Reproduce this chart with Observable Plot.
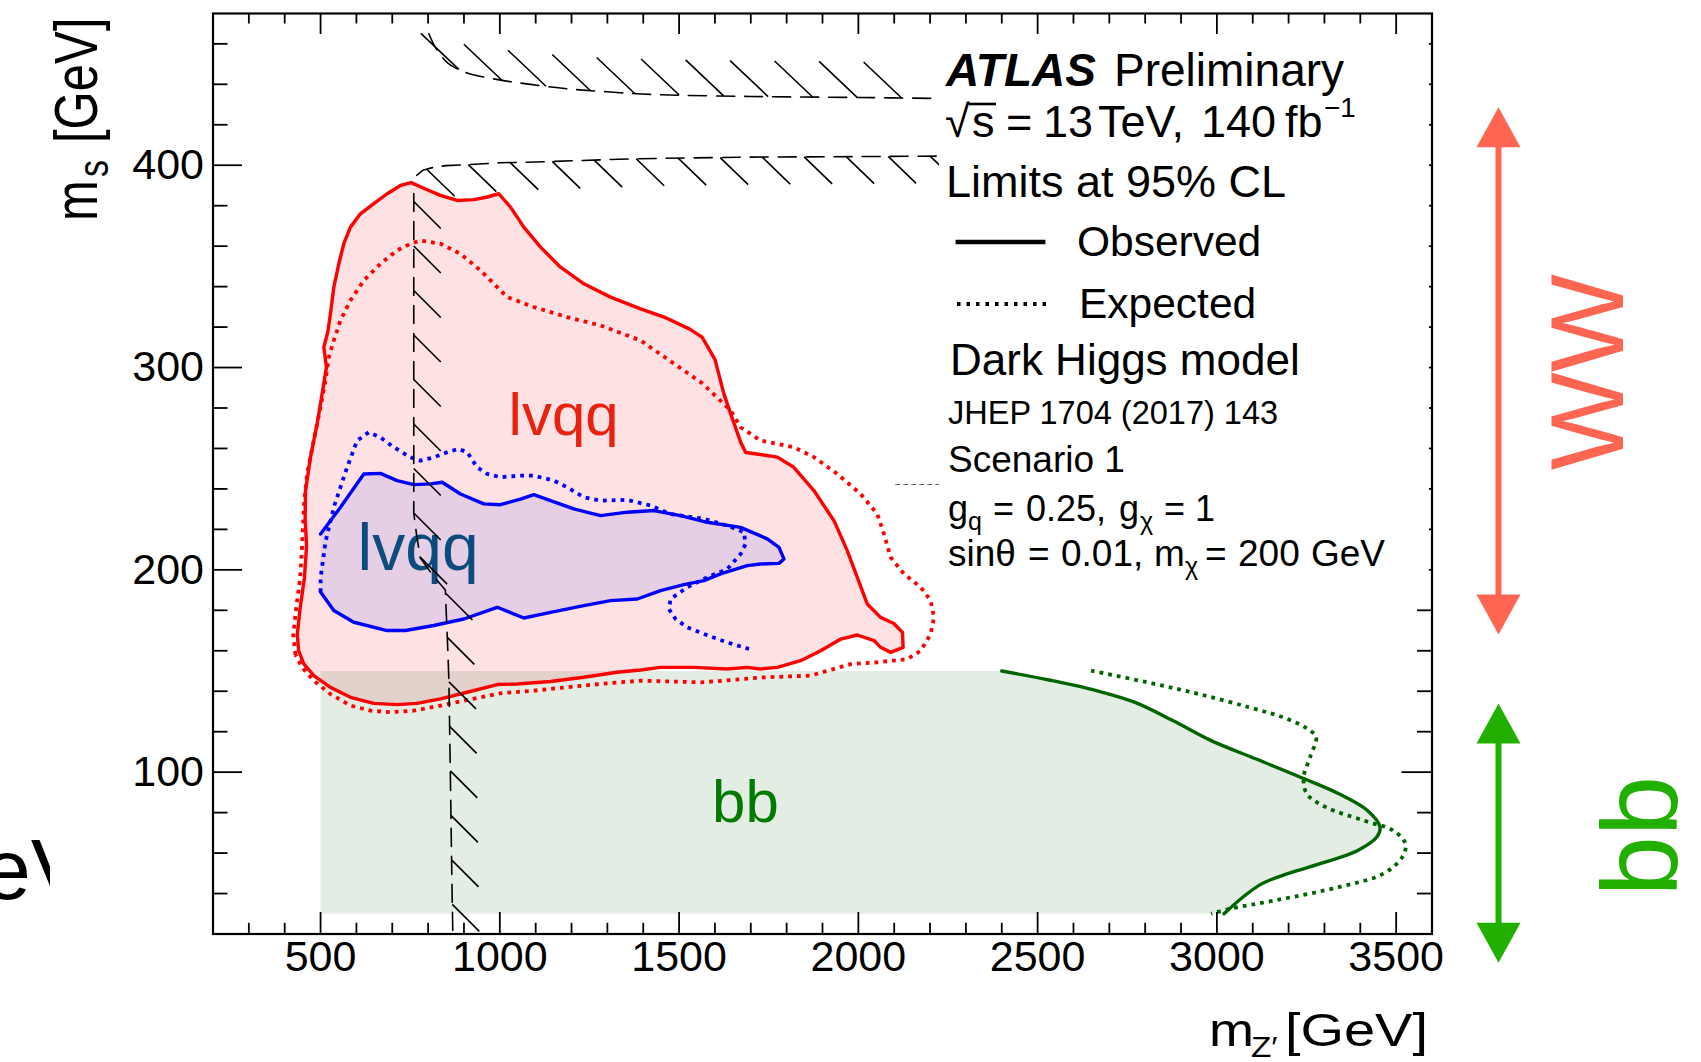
<!DOCTYPE html>
<html>
<head>
<meta charset="utf-8">
<script src="https://cdn.jsdelivr.net/npm/d3@7"></script>
<script src="https://cdn.jsdelivr.net/npm/@observablehq/plot@0.6"></script>
<style>
  html, body { margin: 0; padding: 0; background: #ffffff; }
  #chart svg { display: block; }
</style>
</head>
<body>
<div id="chart"></div>
<script>
const FONT = "'Liberation Sans', Arial, Helvetica, sans-serif";

// ---------- axes ----------
const xDomain = [200, 3600];
const yDomain = [20, 475];
const xMajorTicks = [500, 1000, 1500, 2000, 2500, 3000, 3500];
const yMajorTicks = [100, 200, 300, 400];
const xMinorTicks = d3.range(300, 3600, 100).filter(v => !xMajorTicks.includes(v));
const yMinorTicks = d3.range(40, 475, 20).filter(v => !yMajorTicks.includes(v));

// ---------- contours (m_Z', m_s) ----------
// WW (lvqq) observed - red solid, closed
const wwObserved = [
[439,160],[435,168],[443,181],[455,196],[461,212],[457,225],[458,239],[471.8,255.6],[490.4,272.1],[504.4,287],
[516.4,300.2],[509,310],[520,317.5],[527.6,326.6],[537,339.7],[550.9,351.3],[564.8,361.2],[583.4,369.4],[611,376],
[648.5,381],[685.7,385.9],[723,390],[752.7,391.4],[797.3,387.9],[834.5,385.1],[881,382.6],[927.5,383],[964.7,384.3],
[997.3,385.9],[1029.8,379.3],[1067,369.4],[1113.5,359.5],[1169.3,349.6],[1234.4,341.4],[1308.8,334.8],[1392.5,329],
[1464,324.5],[1530,319],[1564,315],[1600,304],[1625,287],[1650,274],[1672,263],[1686,258],[1727,257],[1774,255.7],
[1820,250.7],[1876,239.2],[1932,224.3],[1969,209.5],[1997,196.3],[2025,183.1],[2062,176.5],[2099,173.5],[2123,169.1],
[2125,161.7],[2090,159.2],[2062,161.7],[2044,165],[1997,167.8],[1951,165.8],[1895,160],[1839,155.1],[1774,151.8],
[1727,151],[1690,151.8],[1634,151],[1541,151.8],[1448,151.8],[1392.5,150.5],[1327,149.4],[1234,146.9],[1141,144.8],
[1048,143.6],[993,143.3],[909,139.5],[834.5,136.2],[769,134],[714,133.4],[648.5,134],[583.4,137],[527.6,141.9],
[481.1,147.7],[453.2,153.5]
];
// WW (lvqq) expected - red dotted, closed
const wwExpected = [
[430,158],[424,168],[432,181],[443,196],[448,210],[452,225],[455,235],[462.5,247.4],[481,263.9],[499.7,280.4],
[513.7,293.6],[523,305.1],[537,313.4],[555.5,323.3],[583.4,333.2],[620.6,343],[667,351.3],[713.6,357.9],[750.8,361.2],
[778.7,362.8],[834.5,361.2],[890.3,356.2],[946,348],[983.3,341.4],[1020.5,334.8],[1094.9,329.9],[1188,324.9],
[1281,320.8],[1392.5,313.4],[1464,304.6],[1564,292.3],[1643.7,278.8],[1671.6,270.5],[1727.4,263.9],[1820.4,260.6],
[1876.2,255.7],[1941.3,247.4],[2006.4,237.5],[2052.9,227.6],[2071.5,217.7],[2090,206.2],[2127.3,198],[2173.8,191.4],
[2201.7,184.8],[2211,176.5],[2201.7,168.3],[2173.8,160],[2136.6,155.9],[2053,154.3],[1978.5,153.4],[1913.4,150.1],
[1866.9,147.7],[1727,146.8],[1632,145.3],[1561,144.4],[1392.5,145.2],[1280.9,143.6],[1187.9,142],[1094.9,140.3],
[1001.9,139],[909,135.7],[834.5,132.9],[760,130.4],[695,129.6],[639.2,130.4],[583.4,132.9],[527.6,138.6],[481.1,145.2],
[448.5,151.8]
];
// second lvqq region observed - blue solid (starts/ends on m_Z' = 500 edge)
const lvqqObserved = [
[500,217.7],[555.5,230.9],[620.6,247.4],[667,247.7],[713.6,244.1],[760,242.1],[806.6,242.5],[839.2,243.3],[890.3,237.5],
[955.4,232.6],[1001.9,232.2],[1057.7,235],[1094.9,237.2],[1141.4,234.2],[1206.5,230.1],[1281,226.8],[1355.4,228.5],
[1429.8,229.3],[1504.2,226.8],[1578.6,223.5],[1671.6,221],[1746,215.3],[1778.6,211.1],[1792.5,205.4],[1778.6,203.2],
[1727.4,202.9],[1690.2,202.1],[1615.8,198],[1569.3,194.7],[1513.5,192.7],[1448.4,189.7],[1383.3,185.6],[1308.9,184.8],
[1234.4,182.3],[1141.4,179],[1067,176.2],[992.6,181.5],[899.6,175.7],[815.9,172.5],[736.9,170],[685.7,170],
[592.7,174.1],[536.9,179.9],[500,189]
];
// second lvqq region expected - blue dotted (open)
const lvqqExpected = [
[500,189],[500,196],[507,205],[514,214],[537,231],[574,250.7],[602,263.9],[634.5,268],[667,265.5],[704.3,260.6],
[750.8,255.6],[778.7,254],[816,255.6],[853,258.1],[885.6,259.8],[909,258.1],[936.8,250.7],[964.7,247.4],[1001.9,245.8],
[1057.7,246.6],[1094.9,246.6],[1150.7,244.1],[1188,240.8],[1234.4,235.9],[1281,234.2],[1355.4,234.6],[1420.5,231.8],
[1476.3,227.6],[1569.3,225.2],[1634.4,221.9],[1680.9,218.6],[1685.6,212.8],[1671.6,207.8],[1634.4,200.4],
[1578.6,196.3],[1522.8,191.4],[1476.3,185.6],[1471.7,180.6],[1490.2,175.7],[1522.8,171.6],[1569.3,168.3],
[1634.4,164.1],[1694.9,160.9]
];
// bb observed - green solid (open)
const bbObserved = [
[2400,150],[2539,145.3],[2664,140.3],[2770,134.6],[2877,125.5],[2984,115.6],[3108,106.6],[3233,97.5],[3340,89.3],
[3420,81],[3455,72.8],[3446,67.9],[3393,61.3],[3304,55.6],[3197,49.8],[3126,44.9],[3073,38.3],[3020,30]
];
// bb expected - green dotted (open)
const bbExpected = [
[2649,150.2],[2806,144.4],[2948,138.7],[3091,132],[3197,126.3],[3260,120.6],[3277,117.3],[3260,107.4],[3242,97.5],
[3251,89.3],[3304,82.7],[3411,76],[3491,71.2],[3526,64.6],[3517,58],[3464,49.8],[3340,43.2],[3162,36.6],[3037,32.5],
[2984,30]
];
// bb excluded area corners (grid edges at m_Z' = 500, m_s = 30 and 150)
const bbGridLow = [[3020,30],[500,30]];
const bbGridHigh = [[500,150]];

// black hatched boundaries
const boundUpper = [
[802,465],[815,460],[834,454.6],[855,450.5],[877,448],[909,445.6],[994.5,442.3],[1080,440.1],[1187,437.8],
[1300,436.3],[1420,435],[1700,434],[2000,433.5],[2230,433]
];
const boundLower = [
[768,395],[785,397.5],[816,399],[850,399.8],[909,400.3],[1000,401.2],[1100,401.6],[1374,403.2],[1700,404],[2230,404.5]
];
const boundVertical = [
[760,386],[760,228],[768,217],[778,206],[810,198],[848,190],[855,160],[858,145],[862,99],[866,50],[869,19]
];
const faintDashed = [[2104,242.2],[2230,242.2]];

// in-plot channel labels
const labelWW = [{text: "lvqq", x: 1178, y: 266.9}];
const labelLvqq = [{text: "lvqq", x: 772, y: 199.7}];
const labelBB = [{text: "bb", x: 1685, y: 75.2}];

// decay-channel ranges in m_s shown at the right
const rangeWW = [{label: "WW", lo: 168, hi: 428.6, mid: 297.7}];
const rangeBB = [{label: "bb", lo: 5.8, hi: 133.9, mid: 68.4}];

// ---------- layout ----------
const W = 1701, H = 1062;
const mL = 212.5, mR = 269.5, mT = 13, mB = 128.5;
const X = Plot.scale({x: {domain: xDomain, range: [mL, W - mR]}});
const Y = Plot.scale({y: {domain: yDomain, range: [H - mB, mT]}});

function hatchSegments(line, spacing, start, dxPx, dyPx) {
  const pts = line.map(([x, y]) => [X.apply(x), Y.apply(y)]);
  const out = [];
  let next = start, walked = 0;
  for (let i = 0; i < pts.length - 1; i++) {
    const [x0, y0] = pts[i], [x1, y1] = pts[i + 1];
    const len = Math.hypot(x1 - x0, y1 - y0);
    while (next <= walked + len) {
      const t = (next - walked) / len;
      const px = x0 + (x1 - x0) * t, py = y0 + (y1 - y0) * t;
      out.push({x1: X.invert(px), y1: Y.invert(py), x2: X.invert(px + dxPx), y2: Y.invert(py + dyPx)});
      next += spacing;
    }
    walked += len;
  }
  return out;
}
const close = a => [...a, a[0]];
const px = d => d[0], py = d => d[1];

const headUp = {draw(c) { c.moveTo(0, 0); c.lineTo(22, 40); c.lineTo(-22, 40); c.closePath(); }};
const headDown = {draw(c) { c.moveTo(0, 0); c.lineTo(22, -40); c.lineTo(-22, -40); c.closePath(); }};

const dotted = "3.8,5";
const hatchDash = "18,10";
const xR = xDomain[1];

const svg = Plot.plot({
  width: W, height: H,
  marginLeft: mL, marginRight: mR, marginTop: mT, marginBottom: mB,
  x: {domain: xDomain, axis: null},
  y: {domain: yDomain, axis: null},
  style: {background: "#ffffff", fontFamily: FONT, overflow: "visible"},
  marks: [
    // fills
    Plot.line(close(wwObserved), {x: px, y: py, fill: "#FDE1E3", stroke: "none", curve: "linear", clip: true}),
    Plot.line(close(lvqqObserved), {x: px, y: py, fill: "#E6CFE5", stroke: "none", curve: "linear", clip: true}),
    Plot.line([...bbGridHigh, ...bbObserved, ...bbGridLow], {x: px, y: py, fill: "#1E6E1E", fillOpacity: 0.12, stroke: "none", curve: "linear", clip: true}),
    // contour lines
    Plot.line(close(wwExpected), {x: px, y: py, stroke: "#FF0000", strokeWidth: 3.8, strokeDasharray: dotted, strokeLinecap: "butt", curve: "linear", clip: true}),
    Plot.line(close(wwObserved), {x: px, y: py, stroke: "#FF0000", strokeWidth: 3.4, curve: "linear", clip: true}),
    Plot.line(lvqqExpected, {x: px, y: py, stroke: "#0000FF", strokeWidth: 3.8, strokeDasharray: dotted, strokeLinecap: "butt", curve: "linear", clip: true}),
    Plot.line(lvqqObserved, {x: px, y: py, stroke: "#0000FF", strokeWidth: 3.4, curve: "linear", clip: true}),
    Plot.line(bbExpected, {x: px, y: py, stroke: "#006400", strokeWidth: 3.8, strokeDasharray: dotted, strokeLinecap: "butt", curve: "catmull-rom", clip: true}),
    Plot.line(bbObserved, {x: px, y: py, stroke: "#006400", strokeWidth: 3.4, curve: "catmull-rom", clip: true}),
    Plot.line(faintDashed, {x: px, y: py, stroke: "#666666", strokeWidth: 1, strokeDasharray: "4,4", curve: "linear", clip: true}),
    // channel labels
    Plot.text(labelWW, {x: "x", y: "y", text: "text", fill: "#E8220F", fontSize: 60, fontFamily: FONT, lineAnchor: "bottom"}),
    Plot.text(labelLvqq, {x: "x", y: "y", text: "text", fill: "#0B4C7E", fontSize: 66, fontFamily: FONT, lineAnchor: "bottom"}),
    Plot.text(labelBB, {x: "x", y: "y", text: "text", fill: "#007A00", fontSize: 60, fontFamily: FONT, lineAnchor: "bottom"}),
    // hatched boundaries
    Plot.line(boundUpper, {x: px, y: py, stroke: "black", strokeWidth: 1.6, strokeDasharray: hatchDash, curve: "catmull-rom", clip: true}),
    Plot.link(hatchSegments(boundUpper, 44.5, 48, -38, -36), {x1: "x1", y1: "y1", x2: "x2", y2: "y2", stroke: "black", strokeWidth: 1.6, clip: true}),
    Plot.line(boundLower, {x: px, y: py, stroke: "black", strokeWidth: 1.6, strokeDasharray: hatchDash, curve: "linear", clip: true}),
    Plot.link(hatchSegments(boundLower, 42, 12, 28, 27), {x1: "x1", y1: "y1", x2: "x2", y2: "y2", stroke: "black", strokeWidth: 1.6, clip: true}),
    Plot.line(boundVertical, {x: px, y: py, stroke: "black", strokeWidth: 1.6, strokeDasharray: hatchDash, curve: "linear", clip: true}),
    Plot.link(hatchSegments(boundVertical, 44.5, 8, 27, 27), {x1: "x1", y1: "y1", x2: "x2", y2: "y2", stroke: "black", strokeWidth: 1.6, clip: true}),
    // ticks (inside the frame, all four sides)
    Plot.ruleX(xMajorTicks, {x: d => d, y1: yDomain[0], y2: Y.invert(H - mB - 21.5), stroke: "black", strokeWidth: 1.8}),
    Plot.ruleX(xMinorTicks, {x: d => d, y1: yDomain[0], y2: Y.invert(H - mB - 10.7), stroke: "black", strokeWidth: 1.8}),
    Plot.ruleX(xMajorTicks, {x: d => d, y1: yDomain[1], y2: Y.invert(mT + 21), stroke: "black", strokeWidth: 1.8}),
    Plot.ruleX(xMinorTicks, {x: d => d, y1: yDomain[1], y2: Y.invert(mT + 10.5), stroke: "black", strokeWidth: 1.8}),
    Plot.ruleY(yMajorTicks, {y: d => d, x1: xDomain[0], x2: X.invert(mL + 29.5), stroke: "black", strokeWidth: 1.8}),
    Plot.ruleY(yMinorTicks, {y: d => d, x1: xDomain[0], x2: X.invert(mL + 15), stroke: "black", strokeWidth: 1.8}),
    Plot.ruleY(yMajorTicks, {y: d => d, x1: xDomain[1], x2: X.invert(W - mR - 30), stroke: "black", strokeWidth: 1.8}),
    Plot.ruleY(yMinorTicks, {y: d => d, x1: xDomain[1], x2: X.invert(W - mR - 14.5), stroke: "black", strokeWidth: 1.8}),
    Plot.frame({stroke: "black", strokeWidth: 2.2}),
    // tick labels
    Plot.text(xMajorTicks, {x: d => d, y: yDomain[0], text: d => String(d), dy: 36.5, lineAnchor: "bottom", fontSize: 43, fontFamily: FONT, fill: "black"}),
    Plot.text(yMajorTicks, {x: xDomain[0], y: d => d, text: d => String(d), dx: -9, textAnchor: "end", lineAnchor: "middle", fontSize: 43, fontFamily: FONT, fill: "black"}),
    // decay range arrows on the right
    Plot.link(rangeWW, {x1: xR, x2: xR, y1: d => d.lo + 8, y2: d => d.hi - 8, dx: 66.5, stroke: "#FF6652", strokeWidth: 6}),
    Plot.dot(rangeWW, {x: xR, y: "hi", dx: 66.5, symbol: headUp, r: 10, fill: "#FF6652", stroke: "none"}),
    Plot.dot(rangeWW, {x: xR, y: "lo", dx: 66.5, symbol: headDown, r: 10, fill: "#FF6652", stroke: "none"}),
    Plot.text(rangeWW, {x: xR, y: "mid", text: "label", dx: 190.5, rotate: -90, fontSize: 104, fontFamily: FONT, fill: "#FF6652", lineAnchor: "bottom"}),
    Plot.link(rangeBB, {x1: xR, x2: xR, y1: d => d.lo + 8, y2: d => d.hi - 8, dx: 66.5, stroke: "#22B000", strokeWidth: 6}),
    Plot.dot(rangeBB, {x: xR, y: "hi", dx: 66.5, symbol: headUp, r: 10, fill: "#22B000", stroke: "none"}),
    Plot.dot(rangeBB, {x: xR, y: "lo", dx: 66.5, symbol: headDown, r: 10, fill: "#22B000", stroke: "none"}),
    Plot.text(rangeBB, {x: xR, y: "mid", text: "label", dx: 244.5, rotate: -90, fontSize: 108, fontFamily: FONT, fill: "#22B000", lineAnchor: "bottom"})
  ]
});
document.getElementById("chart").appendChild(svg);

// ---------- legend box, axis titles ----------
const root = d3.select(svg).append("g").attr("font-family", FONT).attr("fill", "black").attr("text-anchor", "start");
function put(g, x, y, size, str, extra = {}) {
  const t = g.append("text").attr("x", x).attr("y", y).attr("font-size", size).attr("text-anchor", "start").text(str);
  for (const [k, v] of Object.entries(extra)) t.attr(k, v);
  return t;
}
root.append("rect").attr("x", 939).attr("y", 37).attr("width", 490).attr("height", 548).attr("fill", "white");
put(root, 946, 86, 46, "ATLAS", {"font-weight": "bold", "font-style": "italic"});
put(root, 1114, 86, 46, "Preliminary");
put(root, 945, 137, 45, "\u221A");
put(root, 972, 137, 45, "s");
root.append("line").attr("x1", 969).attr("x2", 996).attr("y1", 104).attr("y2", 104).attr("stroke", "black").attr("stroke-width", 2.6);
put(root, 1006, 137, 45, "=");
put(root, 1043, 137, 45, "13");
put(root, 1098, 137, 45, "TeV,");
put(root, 1201, 137, 45, "140");
put(root, 1285, 137, 45, "fb");
put(root, 1324, 117, 28, "\u22121");
put(root, 946, 197, 45, "Limits at 95% CL");
root.append("line").attr("x1", 955.6).attr("x2", 1045.4).attr("y1", 242).attr("y2", 242).attr("stroke", "black").attr("stroke-width", 4.5);
put(root, 1077, 256, 42.5, "Observed");
root.append("line").attr("x1", 957).attr("x2", 1046).attr("y1", 304).attr("y2", 304).attr("stroke", "black").attr("stroke-width", 4).attr("stroke-dasharray", "3.5,6");
put(root, 1079, 318, 42.5, "Expected");
put(root, 950, 375, 44, "Dark Higgs model");
put(root, 948, 424, 32.5, "JHEP 1704 (2017) 143");
put(root, 948, 471.5, 37, "Scenario 1");
put(root, 948, 521, 36, "g");
put(root, 968, 530, 25, "q");
put(root, 993, 521, 36, "=");
put(root, 1026, 521, 36, "0.25,");
put(root, 1119, 521, 36, "g");
put(root, 1140, 530, 25, "\u03C7");
put(root, 1164, 521, 36, "=");
put(root, 1195, 521, 36, "1");
put(root, 948, 566, 37, "sin\u03B8");
put(root, 1028, 566, 37, "=");
put(root, 1061, 566, 37, "0.01,");
put(root, 1154, 566, 37, "m");
put(root, 1185, 575, 25, "\u03C7");
put(root, 1205, 566, 37, "=");
put(root, 1238, 566, 37, "200");
put(root, 1311, 566, 37, "GeV");

// x axis title
const xt = root.append("g").attr("transform", "translate(1209,1046) scale(1.15,1)");
put(xt, 0, 0, 47, "m");
put(xt, 36.5, 10.5, 29, "Z\u2032");
const xt2 = root.append("g").attr("transform", "translate(1285,1046) scale(1.19,1)");
put(xt2, 0, 0, 47, "[GeV]");
// y axis title (rotated)
const yt = root.append("g").attr("transform", "translate(97,0) scale(1.25,1) rotate(-90)");
put(yt, -221, 0, 49, "m");
put(yt, -177, 9, 34, "s");
put(yt, -143, 0, 49, "[GeV]");

// clipped fragment at the left edge
const defs = d3.select(svg).append("defs");
defs.append("clipPath").attr("id", "leftcut").append("rect").attr("x", 0).attr("y", 780).attr("width", 50).attr("height", 200);
d3.select(svg).append("g").attr("clip-path", "url(#leftcut)").attr("font-family", FONT).attr("text-anchor", "start")
  .append("text").attr("x", -84).attr("y", 899).attr("font-size", 86).attr("fill", "black").text("GeV");
</script>
</body>
</html>
